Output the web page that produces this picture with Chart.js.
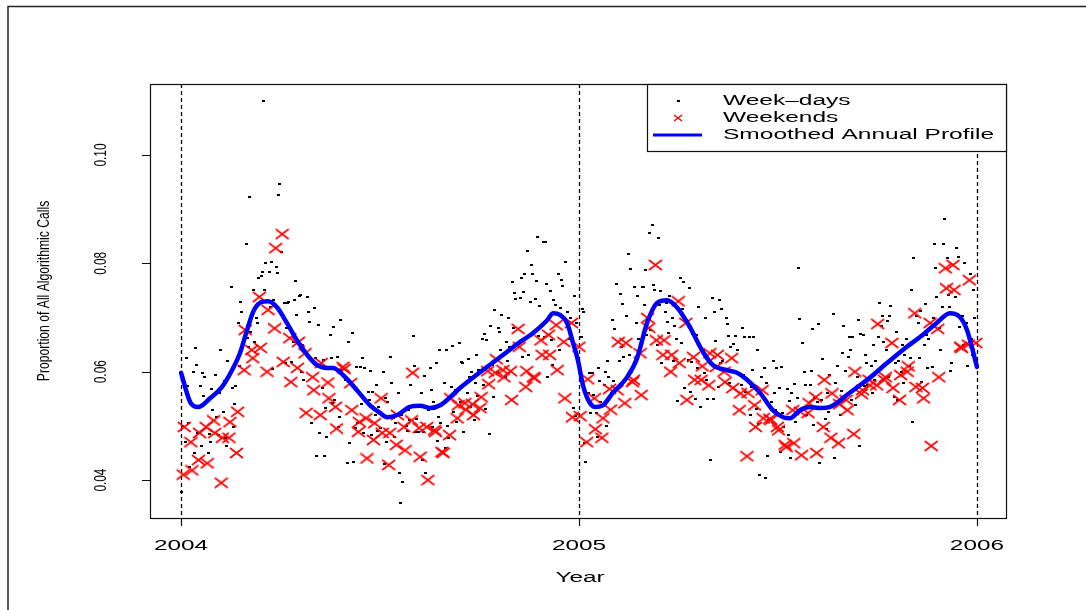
<!DOCTYPE html>
<html>
<head>
<meta charset="utf-8">
<script src="https://cdn.jsdelivr.net/npm/chart.js@4.4.0/dist/chart.umd.min.js"></script>
<style>
  html, body { margin: 0; padding: 0; background: #fff; }
  #wrap { width: 1086px; height: 610px; position: relative; }
</style>
</head>
<body>
<div id="wrap"><canvas id="calls" width="1086" height="610"></canvas></div>
<script>
// daily share of algorithmic calls, one array per month (calendar order within the month)
const weekdays2004 = [
  [0.0378,0.0500,0.0470,0.0625,0.0574,0.0505,0.0424,0.0600,0.0450,0.0644,0.0612,0.0487,0.0574,0.0463,0.0598,0.0555,0.0590,0.0450,0.0485,0.0470,0.0568,0.0530],
  [0.0594,0.0516,0.0483,0.0560,0.0640,0.0526,0.0583,0.0478,0.0463,0.0620,0.0756,0.0570,0.0498,0.0540,0.0574,0.0690,0.0610,0.0729,0.0710,0.0655],
  [0.0836,0.0662,0.0646,0.0923,0.0673,0.0751,0.0655,0.0700,0.0690,0.0773,0.0777,0.0784,0.1100,0.0751,0.0800,0.0784,0.0720,0.0802,0.0605,0.0732,0.0793,0.0782,0.0926],
  [0.0947,0.0821,0.0727,0.0616,0.0680,0.0727,0.0729,0.0618,0.0655,0.0732,0.0767,0.0705,0.0740,0.0742,0.0600,0.0650,0.0585,0.0738,0.0710,0.0692,0.0625,0.0505],
  [0.0717,0.0625,0.0444,0.0686,0.0487,0.0570,0.0622,0.0444,0.0533,0.0480,0.0668,0.0625,0.0542,0.0682,0.0548,0.0627,0.0498,0.0516,0.0695,0.0603,0.0585],
  [0.0585,0.0431,0.0655,0.0468,0.0671,0.0433,0.0496,0.0609,0.0505,0.0609,0.0540,0.0625,0.0487,0.0607,0.0562,0.0548,0.0601,0.0483,0.0562,0.0520,0.0575,0.0490],
  [0.0535,0.0496,0.0600,0.0430,0.0551,0.0470,0.0545,0.0627,0.0579,0.0514,0.0480,0.0505,0.0560,0.0413,0.0358,0.0520,0.0396,0.0500,0.0490,0.0530,0.0510,0.0575],
  [0.0666,0.0610,0.0489,0.0513,0.0489,0.0560,0.0437,0.0489,0.0592,0.0413,0.0530,0.0607,0.0566,0.0498,0.0545,0.0616,0.0472,0.0516,0.0640,0.0505,0.0580,0.0460],
  [0.0640,0.0500,0.0478,0.0572,0.0648,0.0525,0.0566,0.0507,0.0653,0.0545,0.0618,0.0616,0.0489,0.0560,0.0623,0.0590,0.0535,0.0600,0.0510,0.0580,0.0630,0.0555],
  [0.0603,0.0660,0.0575,0.0670,0.0531,0.0658,0.0485,0.0684,0.0612,0.0553,0.0714,0.0600,0.0680,0.0673,0.0640,0.0705,0.0590,0.0655,0.0620,0.0700,0.0645],
  [0.0765,0.0680,0.0745,0.0734,0.0653,0.0736,0.0773,0.0627,0.0747,0.0780,0.0823,0.0630,0.0729,0.0797,0.0780,0.0734,0.0767,0.0849,0.0666,0.0721,0.0839,0.0664],
  [0.0839,0.0762,0.0590,0.0749,0.0658,0.0612,0.0732,0.0723,0.0780,0.0640,0.0717,0.0769,0.0758,0.0802,0.0710,0.0685,0.0660,0.0700,0.0533,0.0740,0.0518,0.0690,0.0620]
];
const weekends2004 = [
  [0.0410,0.0498,0.0470,0.0418,0.0437,0.0487,0.0498,0.0431,0.0510],
  [0.0487,0.0395,0.0478,0.0478,0.0507,0.0450,0.0526,0.0603,0.0677],
  [0.0640,0.0625,0.0738,0.0644,0.0600,0.0714,0.0680,0.0828],
  [0.0854,0.0618,0.0662,0.0581,0.0607,0.0655,0.0634,0.0524],
  [0.0590,0.0566,0.0520,0.0616,0.0580,0.0551,0.0535,0.0495,0.0609,0.0605],
  [0.0579,0.0529,0.0489,0.0507,0.0514,0.0440,0.0474,0.0505],
  [0.0551,0.0487,0.0428,0.0487,0.0465,0.0520,0.0498,0.0455,0.0510],
  [0.0598,0.0496,0.0443,0.0498,0.0400,0.0492,0.0489,0.0452,0.0450],
  [0.0483,0.0551,0.0514,0.0538,0.0542,0.0530,0.0540,0.0520],
  [0.0533,0.0553,0.0601,0.0577,0.0598,0.0623,0.0603,0.0590,0.0601,0.0548],
  [0.0679,0.0646,0.0572,0.0601,0.0590,0.0588,0.0658,0.0631],
  [0.0668,0.0631,0.0686,0.0603,0.0655,0.0551,0.0690,0.0516]
];
const weekdays2005 = [
  [0.0664,0.0716,0.0710,0.0468,0.0433,0.0560,0.0598,0.0524,0.0598,0.0557,0.0524,0.0480,0.0607,0.0583,0.0545,0.0575,0.0600,0.0500,0.0620,0.0590,0.0560],
  [0.0695,0.0583,0.0679,0.0762,0.0620,0.0743,0.0646,0.0725,0.0627,0.0703,0.0817,0.0631,0.0789,0.0600,0.0756,0.0616,0.0690,0.0740,0.0660,0.0756],
  [0.0756,0.0723,0.0788,0.0668,0.0856,0.0677,0.0871,0.0760,0.0751,0.0650,0.0847,0.0723,0.0749,0.0616,0.0710,0.0727,0.0692,0.0671,0.0740,0.0700,0.0620,0.0685,0.0660],
  [0.0546,0.0773,0.0653,0.0716,0.0766,0.0570,0.0622,0.0755,0.0562,0.0618,0.0669,0.0550,0.0668,0.0607,0.0720,0.0535,0.0640,0.0598,0.0700,0.0585,0.0550],
  [0.0437,0.0736,0.0550,0.0710,0.0657,0.0572,0.0732,0.0616,0.0716,0.0620,0.0700,0.0688,0.0666,0.0580,0.0646,0.0651,0.0600,0.0666,0.0640,0.0598,0.0575,0.0680],
  [0.0594,0.0664,0.0562,0.0664,0.0520,0.0572,0.0603,0.0664,0.0531,0.0640,0.0503,0.0409,0.0590,0.0607,0.0404,0.0579,0.0444,0.0510,0.0545,0.0620,0.0560,0.0530],
  [0.0607,0.0570,0.0452,0.0609,0.0524,0.0498,0.0568,0.0483,0.0546,0.0440,0.0561,0.0577,0.0507,0.0551,0.0791,0.0697,0.0653,0.0530,0.0600,0.0575,0.0520],
  [0.0575,0.0601,0.0679,0.0502,0.0551,0.0544,0.0688,0.0431,0.0548,0.0623,0.0513,0.0494,0.0560,0.0526,0.0594,0.0707,0.0440,0.0580,0.0540,0.0610,0.0520,0.0565,0.0635],
  [0.0684,0.0601,0.0627,0.0664,0.0640,0.0548,0.0664,0.0538,0.0590,0.0695,0.0463,0.0669,0.0668,0.0574,0.0631,0.0616,0.0575,0.0610,0.0560,0.0650,0.0585,0.0620],
  [0.0664,0.0727,0.0684,0.0703,0.0655,0.0640,0.0694,0.0590,0.0703,0.0721,0.0553,0.0616,0.0673,0.0548,0.0620,0.0600,0.0650,0.0580,0.0630,0.0660,0.0610],
  [0.0625,0.0750,0.0507,0.0810,0.0703,0.0690,0.0625,0.0712,0.0581,0.0650,0.0725,0.0668,0.0607,0.0660,0.0609,0.0700,0.0836,0.0791,0.0738,0.0680,0.0640,0.0720],
  [0.0836,0.0882,0.0810,0.0742,0.0720,0.0601,0.0616,0.0738,0.0828,0.0707,0.0812,0.0682,0.0703,0.0650,0.0800,0.0690,0.0610,0.0780,0.0660,0.0630,0.0750,0.0700]
];
const weekends2005 = [
  [0.0646,0.0518,0.0470,0.0586,0.0551,0.0494,0.0478,0.0514,0.0568,0.0530],
  [0.0566,0.0655,0.0542,0.0653,0.0581,0.0585,0.0634,0.0557],
  [0.0699,0.0681,0.0797,0.0658,0.0631,0.0658,0.0600,0.0631],
  [0.0730,0.0616,0.0690,0.0548,0.0627,0.0585,0.0585,0.0610,0.0575],
  [0.0634,0.0609,0.0631,0.0600,0.0581,0.0625,0.0570,0.0529,0.0560],
  [0.0444,0.0561,0.0538,0.0498,0.0566,0.0514,0.0513,0.0511],
  [0.0498,0.0492,0.0465,0.0461,0.0529,0.0468,0.0526,0.0446,0.0524,0.0542],
  [0.0553,0.0450,0.0498,0.0585,0.0478,0.0560,0.0468,0.0540],
  [0.0548,0.0529,0.0485,0.0600,0.0559,0.0566,0.0585,0.0575],
  [0.0575,0.0688,0.0585,0.0590,0.0653,0.0570,0.0548,0.0594,0.0600,0.0610],
  [0.0708,0.0572,0.0570,0.0551,0.0690,0.0463,0.0679,0.0590],
  [0.0791,0.0754,0.0797,0.0751,0.0646,0.0644,0.0650,0.0769,0.0653]
];

// smoothed annual profile
const curveYears = [2004.000,2004.023,2004.043,2004.073,2004.103,2004.131,2004.148,2004.166,2004.181,2004.198,
  2004.219,2004.241,2004.266,2004.291,2004.317,2004.342,2004.367,2004.382,2004.407,2004.442,
  2004.475,2004.500,2004.518,2004.543,2004.575,2004.601,2004.626,2004.651,2004.701,2004.751,
  2004.802,2004.852,2004.884,2004.920,2004.935,2004.952,2004.970,2004.985,2004.997,2005.010,
  2005.023,2005.040,2005.060,2005.085,2005.121,2005.146,2005.171,2005.196,2005.221,2005.246,
  2005.279,2005.312,2005.337,2005.372,2005.397,2005.422,2005.455,2005.487,2005.513,2005.530,
  2005.555,2005.580,2005.606,2005.631,2005.673,2005.724,2005.774,2005.824,2005.857,2005.899,
  2005.932,2005.957,2005.975,2005.987,2006.000];
const curveValues = [0.0598,0.0544,0.0535,0.0551,0.0572,0.0607,0.0634,0.0677,0.0710,0.0727,
  0.0730,0.0719,0.0690,0.0658,0.0631,0.0612,0.0607,0.0607,0.0594,0.0566,
  0.0538,0.0524,0.0516,0.0520,0.0535,0.0537,0.0533,0.0538,0.0570,0.0599,
  0.0627,0.0655,0.0671,0.0695,0.0708,0.0705,0.0690,0.0653,0.0622,0.0575,
  0.0548,0.0535,0.0538,0.0561,0.0590,0.0625,0.0690,0.0727,0.0732,0.0719,
  0.0682,0.0636,0.0612,0.0603,0.0598,0.0585,0.0561,0.0529,0.0516,0.0514,
  0.0529,0.0535,0.0533,0.0535,0.0557,0.0585,0.0616,0.0646,0.0664,0.0690,
  0.0708,0.0701,0.0677,0.0646,0.0609];

const yearTicks = [2004, 2005, 2006];
const propTicks = [0.04, 0.06, 0.08, 0.10];

const FONT = '"Liberation Sans", Arial, Helvetica, sans-serif';

function dailyPoints(year, monthly, weekend) {
  const pts = [];
  const jan1 = new Date(year, 0, 1);
  const daysInYear = year % 4 === 0 ? 366 : 365;
  monthly.forEach((vals, m) => {
    const days = new Date(year, m + 1, 0).getDate();
    let k = 0;
    for (let d = 1; d <= days && k < vals.length; d++) {
      const date = new Date(year, m, d);
      const isWeekend = date.getDay() === 0 || date.getDay() === 6;
      if (isWeekend !== weekend) continue;
      const doy = Math.round((date - jan1) / 86400000);
      pts.push({ x: year + doy / daysInYear, y: vals[k++] });
    }
  });
  return pts;
}

// small markers: R's "." and pch 4
const dotMark = document.createElement('canvas');
dotMark.width = 3; dotMark.height = 2;
dotMark.getContext('2d').fillRect(0, 0, 3, 2);

const crossMark = document.createElement('canvas');
crossMark.width = 15; crossMark.height = 12;
(() => {
  const c = crossMark.getContext('2d');
  c.strokeStyle = '#ff0000';
  c.lineWidth = 1.6;
  c.beginPath();
  c.moveTo(1, 1); c.lineTo(14, 11);
  c.moveTo(14, 1); c.lineTo(1, 11);
  c.stroke();
})();

function stretchedText(ctx, text, x, y, opts) {
  ctx.save();
  ctx.translate(x, y);
  if (opts.rotate) ctx.rotate(opts.rotate);
  ctx.scale(opts.sx || 1, opts.sy || 1);
  ctx.font = (opts.size || 14) + 'px ' + FONT;
  ctx.fillStyle = '#000';
  ctx.textAlign = opts.align || 'center';
  ctx.textBaseline = 'middle';
  ctx.fillText(text, 0, 0);
  ctx.restore();
}

const framePlugin = {
  id: 'frame',
  beforeDraw(chart) {
    const ctx = chart.ctx;
    ctx.save();
    ctx.fillStyle = '#fff';
    ctx.fillRect(0, 0, chart.width, chart.height);
    ctx.restore();
  },
  beforeDatasetsDraw(chart) {
    const { ctx, chartArea: a, scales: { x } } = chart;
    ctx.save();
    ctx.strokeStyle = '#000';
    ctx.lineWidth = 1.3;
    ctx.setLineDash([4, 3]);
    yearTicks.forEach(t => {
      const px = Math.round(x.getPixelForValue(t)) + 0.5;
      ctx.beginPath();
      ctx.moveTo(px, a.top);
      ctx.lineTo(px, a.bottom);
      ctx.stroke();
    });
    ctx.restore();
  },
  afterDraw(chart) {
    const { ctx, chartArea: a, scales: { x, y } } = chart;
    ctx.save();

    // outer figure border
    ctx.strokeStyle = '#222';
    ctx.lineWidth = 1.5;
    ctx.beginPath();
    ctx.moveTo(8, chart.height);
    ctx.lineTo(8, 6.5);
    ctx.lineTo(chart.width, 6.5);
    ctx.stroke();

    // plot box
    ctx.strokeStyle = '#111';
    ctx.lineWidth = 1.2;
    ctx.strokeRect(a.left + 0.5, a.top + 0.5, a.right - a.left, a.bottom - a.top);

    // x axis
    ctx.beginPath();
    yearTicks.forEach(t => {
      const px = Math.round(x.getPixelForValue(t)) + 0.5;
      ctx.moveTo(px, a.bottom);
      ctx.lineTo(px, a.bottom + 8);
    });
    ctx.stroke();
    yearTicks.forEach(t => {
      stretchedText(ctx, String(t), x.getPixelForValue(t), a.bottom + 28, { size: 14, sx: 1.74 });
    });
    stretchedText(ctx, 'Year', (a.left + a.right) / 2 + 2, a.bottom + 60, { size: 14, sx: 1.74 });

    // y axis
    ctx.beginPath();
    propTicks.forEach(t => {
      const py = Math.round(y.getPixelForValue(t)) + 0.5;
      ctx.moveTo(a.left, py);
      ctx.lineTo(a.left - 8, py);
    });
    ctx.stroke();
    propTicks.forEach(t => {
      stretchedText(ctx, t.toFixed(2), 102, y.getPixelForValue(t),
        { size: 16, rotate: -Math.PI / 2, sx: 0.74, sy: 1.02 });
    });
    stretchedText(ctx, 'Proportion of All Algorithmic Calls', 45, 291,
      { size: 16, rotate: -Math.PI / 2, sx: 0.76, sy: 1.02 });

    // legend box
    const lx = 647, ly = a.top, lw = a.right - 647, lh = 67;
    ctx.fillStyle = '#fff';
    ctx.fillRect(lx, ly, lw, lh);
    ctx.strokeStyle = '#111';
    ctx.lineWidth = 1.2;
    ctx.strokeRect(lx + 0.5, ly + 0.5, lw, lh);

    const rows = chart.data.datasets.slice().sort((p, q) => p.legendRank - q.legendRank);
    rows.forEach((ds, i) => {
      const cy = ly + 17 + i * 17;
      if (ds.legendRank === 0) {
        ctx.fillStyle = '#000';
        ctx.fillRect(677, cy - 1, 3, 2);
      } else if (ds.legendRank === 1) {
        ctx.strokeStyle = '#ff0000';
        ctx.lineWidth = 1.4;
        ctx.beginPath();
        ctx.moveTo(674, cy - 3); ctx.lineTo(682, cy + 3);
        ctx.moveTo(682, cy - 3); ctx.lineTo(674, cy + 3);
        ctx.stroke();
      } else {
        ctx.strokeStyle = '#0000ff';
        ctx.lineWidth = 3;
        ctx.beginPath();
        ctx.moveTo(653, cy); ctx.lineTo(702, cy);
        ctx.stroke();
      }
      stretchedText(ctx, ds.label, 723, cy, { size: 14, sx: 1.75, align: 'left' });
    });

    ctx.restore();
  }
};

const weekdayPts = dailyPoints(2004, weekdays2004, false).concat(dailyPoints(2005, weekdays2005, false));
const weekendPts = dailyPoints(2004, weekends2004, true).concat(dailyPoints(2005, weekends2005, true));
const curvePts = curveYears.map((t, i) => ({ x: t, y: curveValues[i] }));

new Chart(document.getElementById('calls'), {
  type: 'scatter',
  data: {
    datasets: [
      {
        label: 'Smoothed Annual Profile',
        legendRank: 2,
        type: 'line',
        data: curvePts,
        borderColor: '#0000ff',
        borderWidth: 4.5,
        borderCapStyle: 'round',
        borderJoinStyle: 'round',
        cubicInterpolationMode: 'monotone',
        pointRadius: 0,
        fill: false,
        order: 0,
      },
      {
        label: 'Weekends',
        legendRank: 1,
        data: weekendPts,
        pointStyle: crossMark,
        pointRadius: 6,
        order: 1,
      },
      {
        label: 'Week–days',
        legendRank: 0,
        data: weekdayPts,
        pointStyle: dotMark,
        pointRadius: 2,
        order: 2,
      },
    ],
  },
  options: {
    responsive: false,
    devicePixelRatio: 1,
    animation: false,
    events: [],
    layout: { padding: { left: 150, right: 80, top: 84, bottom: 92 } },
    plugins: {
      legend: { display: false },
      tooltip: { enabled: false },
    },
    scales: {
      x: { type: 'linear', min: 2003.922, max: 2006.073, display: false },
      y: { type: 'linear', min: 0.0330, max: 0.1131, display: false },
    },
  },
  plugins: [framePlugin],
});
</script>
</body>
</html>
